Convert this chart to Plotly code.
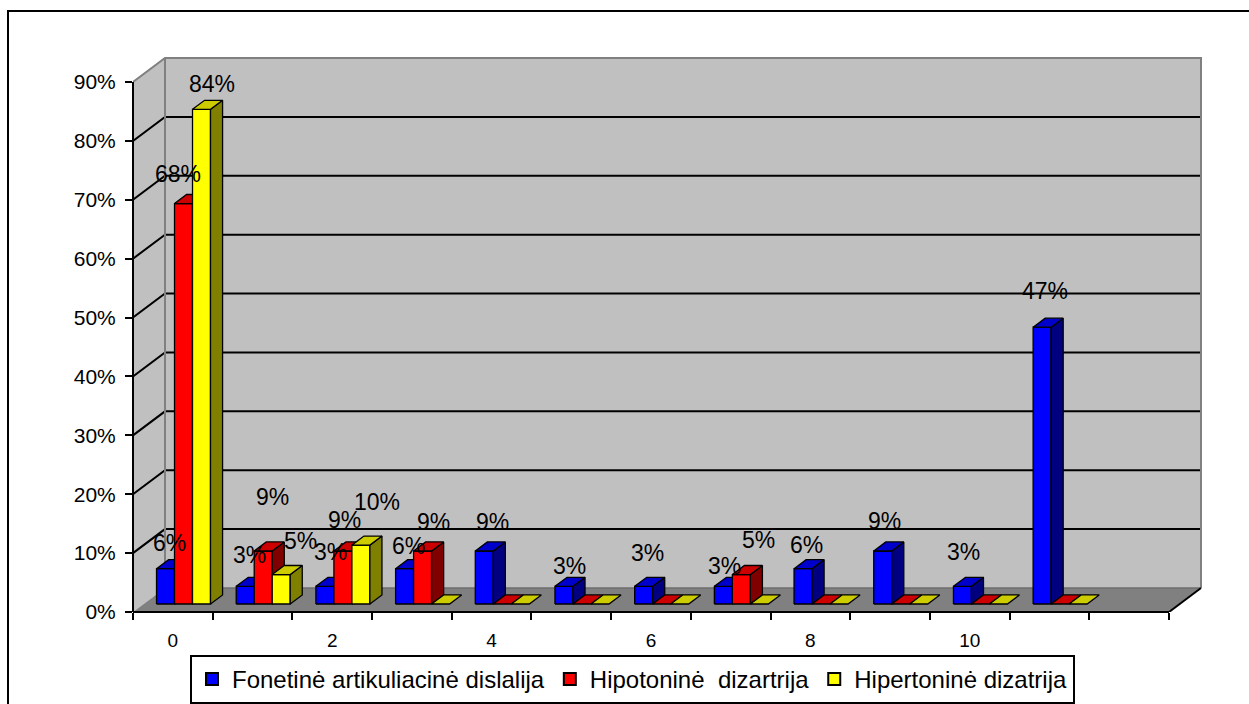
import plotly.graph_objects as go

# ---------------------------------------------------------------- data
categories = [0, 1, 2, 3, 4, 5, 6, 7, 8, 9, 10, 11, 12]
tick_values = [0, 2, 4, 6, 8, 10]
tick_labels = ["0", "2", "4", "6", "8", "10"]
pct_ticks = [0, 10, 20, 30, 40, 50, 60, 70, 80, 90]
pct_labels = ["0%", "10%", "20%", "30%", "40%", "50%", "60%", "70%", "80%", "90%"]

series_names = [
    "Fonetinė artikuliacinė dislalija",
    "Hipotoninė  dizartrija",
    "Hipertoninė dizatrija",
]
fonetine = [6, 3, 3, 6, 9, 3, 3, 3, 6, 9, 3, 47, None]
hipotonine = [68, 9, 9, 9, 0, 0, 0, 5, 0, 0, 0, 0, None]
hipertonine = [84, 5, 10, 0, 0, 0, 0, 0, 0, 0, 0, 0, None]
series_values = [fonetine, hipotonine, hipertonine]

# ------------------------------------------------------------- styling
# (front, top, side) face colours for each series
face_colors = [
    ("#0000FF", "#0000CC", "#000080"),
    ("#FF0000", "#CC0000", "#800000"),
    ("#FFFF00", "#CCCC00", "#808000"),
]
# value-label offsets in px (right, down) from the top of each bar's front face
label_dx = [
    [4, 4, 6, 4, 8, 6, 4, 1, 3, 2, 1, 3, 0],
    [-6, 9, 2, 11, 0, 0, 0, 17, 0, 0, 0, 0, 0],
    [10, 19, 16, 0, 0, 0, 0, 0, 0, 0, 0, 0, 0],
]
label_dy = [
    [-26, -31, -34, -23, -29, -20, -33, -20, -24, -30, -34, -36, 0],
    [-30, -54, -31, -29, 0, 0, 0, -35, 0, 0, 0, 0, 0],
    [-25, -34, -43, 0, 0, 0, 0, 0, 0, 0, 0, 0, 0],
]

FONT = "Arial, Liberation Sans, sans-serif"
W, H = 1249, 704
ML, MR, MT, MB = 133, 40, 50, 92
PLOT_W = W - ML - MR
PLOT_H = H - MT - MB

# front plane scale: 13 category slots over 1036 px, 0-90 % over 530 px
PX_X = 1036 / len(categories)
PX_Y = 530 / 90
x_range = [-0.5, -0.5 + PLOT_W / PX_X]
y_range = [0, PLOT_H / PX_Y]

X_LO, X_HI = -0.5, len(categories) - 0.5
TOP = 90
DX, DY = 32 / PX_X, 24 / PX_Y          # depth of the chart box
F1, F2 = 1 / 3, 0.71                    # bar front / back depth fractions
BW = 18 / PX_X                          # bar width
G = (1 - 3 * BW) / 2                    # gap around a category's bar group


def poly_trace(polys, fill, line_w=1.3, line_c="black"):
    xs, ys = [], []
    for pts in polys:
        for x, y in pts + [pts[0]]:
            xs.append(x)
            ys.append(y)
        xs.append(None)
        ys.append(None)
    return go.Scatter(
        x=xs, y=ys, mode="lines", fill="toself", fillcolor=fill,
        line=dict(color=line_c, width=line_w), hoverinfo="skip",
        showlegend=False,
    )


def line_trace(segments, color, width):
    xs, ys = [], []
    for seg in segments:
        for x, y in seg:
            xs.append(x)
            ys.append(y)
        xs.append(None)
        ys.append(None)
    return go.Scatter(
        x=xs, y=ys, mode="lines", line=dict(color=color, width=width),
        hoverinfo="skip", showlegend=False,
    )


fig = go.Figure()

# walls and floor
back_wall = [(X_LO + DX, DY), (X_HI + DX, DY), (X_HI + DX, TOP + DY), (X_LO + DX, TOP + DY)]
side_wall = [(X_LO, 0), (X_LO + DX, DY), (X_LO + DX, TOP + DY), (X_LO, TOP)]
floor = [(X_LO, 0), (X_HI, 0), (X_HI + DX, DY), (X_LO + DX, DY)]
fig.add_trace(poly_trace([back_wall, side_wall], "#C0C0C0", line_w=0))

grid = []
for v in pct_ticks[1:-1]:
    grid.append([(X_LO, v), (X_LO + DX, v + DY), (X_HI + DX, v + DY)])
fig.add_trace(line_trace(grid, "black", 2))
fig.add_trace(line_trace(
    [[(X_LO, TOP), (X_LO + DX, TOP + DY), (X_HI + DX, TOP + DY), (X_HI + DX, DY)],
     [(X_LO + DX, DY), (X_LO + DX, TOP + DY)]],
    "#808080", 2))
fig.add_trace(poly_trace([floor], "#808080", line_w=0))
fig.add_trace(line_trace([[(X_LO + DX, DY), (X_HI + DX, DY)]], "#6E6E6E", 1.5))
fig.add_trace(line_trace([[(X_HI, 0), (X_HI + DX, DY)]], "black", 2))

# 3-D bars
fx, fy = F1 * DX, F1 * DY
bx, by = F2 * DX, F2 * DY
annotations = []
for k, vals in enumerate(series_values):
    fronts, sides, tops = [], [], []
    for i, v in zip(categories, vals):
        if v is None:
            continue
        xl = i - 0.5 + G + k * BW
        xr = xl + BW
        tops.append([(xl + fx, v + fy), (xr + fx, v + fy), (xr + bx, v + by), (xl + bx, v + by)])
        if v > 0:
            fronts.append([(xl + fx, fy), (xr + fx, fy), (xr + fx, v + fy), (xl + fx, v + fy)])
            sides.append([(xr + fx, fy), (xr + bx, by), (xr + bx, v + by), (xr + fx, v + fy)])
            annotations.append(dict(
                x=xl + fx + BW / 2, y=v + fy, xref="x", yref="y",
                text=f"{v}%", showarrow=False,
                xshift=label_dx[k][i], yshift=-label_dy[k][i],
                font=dict(family=FONT, size=23, color="black"),
            ))
    front_c, top_c, side_c = face_colors[k]
    if fronts:
        fig.add_trace(poly_trace(fronts, front_c))
        fig.add_trace(poly_trace(sides, side_c))
    fig.add_trace(poly_trace(tops, top_c))

# legend entries
for name, (front_c, _, _) in zip(series_names, face_colors):
    fig.add_trace(go.Scatter(
        x=[None], y=[None], mode="markers", name=name,
        marker=dict(symbol="square", size=12, color=front_c,
                    line=dict(color="black", width=1)),
    ))


def px_to_paper_x(px):
    return (px - ML) / PLOT_W


def px_to_paper_y(py):
    return (H - MB - py) / PLOT_H


shapes = [
    # value axis line
    dict(type="line", xref="x domain", yref="y", x0=0, x1=0, y0=0, y1=TOP,
         line=dict(color="black", width=2), layer="above"),
    # category axis line
    dict(type="line", xref="x", yref="y domain", x0=X_LO, x1=X_HI, y0=0, y1=0,
         line=dict(color="black", width=2), layer="above"),
    # chart frame
    dict(type="rect", xref="paper", yref="paper",
         x0=px_to_paper_x(8), x1=px_to_paper_x(1300),
         y0=px_to_paper_y(760), y1=px_to_paper_y(11),
         line=dict(color="black", width=2), fillcolor="rgba(0,0,0,0)"),
]

fig.update_layout(
    width=W, height=H,
    margin=dict(l=ML, r=MR, t=MT, b=MB, pad=0, autoexpand=False),
    paper_bgcolor="white", plot_bgcolor="white",
    font=dict(family=FONT, color="black"),
    showlegend=True,
    legend=dict(
        orientation="h", x=px_to_paper_x(190), y=px_to_paper_y(655),
        xanchor="left", yanchor="top",
        bgcolor="white", bordercolor="black", borderwidth=2,
        font=dict(family=FONT, size=24, color="black"),
        itemsizing="constant",
    ),
    xaxis=dict(
        range=x_range, showgrid=False, zeroline=False, showline=False,
        tickmode="array", tickvals=tick_values, ticktext=tick_labels,
        ticks="", ticklabelstandoff=15,
        tickfont=dict(family=FONT, size=19, color="black"),
        minor=dict(tickmode="array",
                   tickvals=[c - 0.5 for c in categories] + [categories[-1] + 0.5],
                   ticks="outside", ticklen=7, tickwidth=2, tickcolor="black"),
        fixedrange=True,
    ),
    yaxis=dict(
        range=y_range, showgrid=False, zeroline=False, showline=False,
        tickmode="array", tickvals=pct_ticks, ticktext=pct_labels,
        ticks="outside", ticklen=7, tickwidth=2, tickcolor="black",
        ticklabelstandoff=5,
        tickfont=dict(family=FONT, size=21, color="black"),
        fixedrange=True,
    ),
    shapes=shapes,
    annotations=annotations,
    hovermode=False,
)

fig.write_html("out.html", config={"displayModeBar": False})
